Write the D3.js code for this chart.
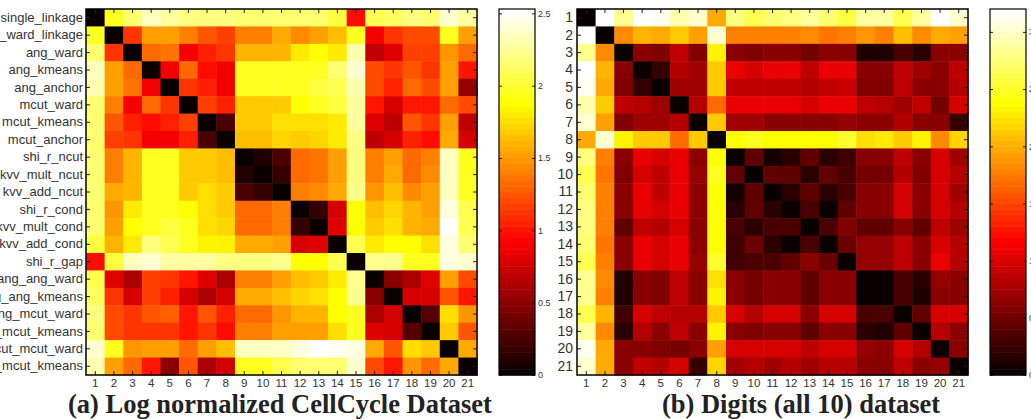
<!DOCTYPE html>
<html>
<head>
<meta charset="utf-8">
<script src="https://cdn.jsdelivr.net/npm/d3@7"></script>
<style>
  body { margin: 0; background: #fff; }
  svg { display: block; }
  .tick text { fill: #333; }
</style>
</head>
<body>
<div id="chart"></div>
<script>
// method names for panel (a)
const methodNames = ["single_linkage", "hc_ward_linkage", "ang_ward", "ang_kmeans", "ang_anchor",
  "mcut_ward", "mcut_kmeans", "mcut_anchor", "shi_r_ncut", "kvv_mult_ncut", "kvv_add_ncut",
  "shi_r_cond", "kvv_mult_cond", "kvv_add_cond", "shi_r_gap", "ang_ang_ward", "ang_ang_kmeans",
  "ang_mcut_ward", "ang_mcut_kmeans", "mcut_mcut_ward", "mcut_mcut_kmeans"];
const indexLabels = d3.range(1, 22).map(String);

const cellCycleTicks = [0, 0.5, 1, 1.5, 2, 2.5];
const cellCycleMax = 2.53;
const digitsTicks = [0, 0.5, 1, 1.5, 2, 2.5, 3];
const digitsMax = 3.2;

// (a) Log normalized CellCycle distances
const cellCycle = [
  [0,1.97,2.17,2.37,2.29,2.19,2.19,2.19,2.17,2.17,2.17,2.17,2.17,2.02,0.95,2.07,2.12,2.19,2.14,2.39,2.27],
  [1.97,0,1.13,1.51,1.54,1.39,1.26,1.16,1.41,1.39,1.56,1.46,1.51,1.64,1.97,0.88,1.13,1.21,1.21,1.97,1.54],
  [2.14,1.13,0,1.31,1.36,0.88,1.06,1.13,1.61,1.61,1.61,1.81,1.89,1.81,2.32,0.68,0.81,1.18,1.18,1.49,1.31],
  [2.37,1.51,1.31,0,0.88,1.31,0.95,0.88,1.94,1.94,1.97,1.94,1.97,2.14,2.39,1.21,1.13,1.26,1.13,1.51,1.01],
  [2.32,1.54,1.36,0.88,0,1.13,1.03,0.88,1.94,1.94,1.97,1.97,2.02,2.07,2.32,1.21,1.06,1.31,1.21,1.54,0.55],
  [2.17,1.39,0.88,1.31,1.13,0,1.18,1.06,1.69,1.69,1.69,1.89,1.97,2.02,2.27,1.01,0.76,1.01,1.01,1.31,1.21],
  [2.17,1.26,1.06,0.95,1.03,1.18,0,0.25,1.69,1.69,1.76,1.74,1.76,1.81,2.27,0.83,0.68,1.26,1.13,1.54,0.68],
  [2.17,1.16,1.13,0.88,0.88,1.06,0.25,0,1.64,1.64,1.71,1.69,1.71,1.81,2.19,0.68,0.76,1.06,0.95,1.56,0.76],
  [2.17,1.41,1.61,1.94,1.94,1.69,1.69,1.64,0,0.08,0.25,1.31,1.36,1.54,2.19,1.41,1.54,1.31,1.41,2.37,1.97],
  [2.17,1.39,1.61,1.94,1.94,1.69,1.69,1.64,0.08,0,0.18,1.31,1.36,1.54,2.19,1.41,1.56,1.31,1.44,2.37,1.97],
  [2.17,1.56,1.61,1.97,1.97,1.69,1.76,1.69,0.25,0.18,0,1.41,1.44,1.56,2.22,1.49,1.64,1.44,1.51,2.37,1.97],
  [2.17,1.49,1.81,1.94,1.94,1.89,1.74,1.69,1.31,1.31,1.41,0,0.18,0.76,1.89,1.66,1.71,1.59,1.54,2.44,2.09],
  [2.17,1.51,1.89,1.94,2.02,1.97,1.76,1.71,1.31,1.31,1.41,0.18,0,0.81,1.89,1.69,1.76,1.59,1.56,2.52,2.09],
  [2.02,1.59,1.81,2.19,2.07,1.97,1.84,1.84,1.56,1.56,1.54,0.76,0.81,0,2.07,1.81,1.89,1.89,1.76,2.44,2.14],
  [0.95,2.02,2.37,2.39,2.29,2.29,2.29,2.19,2.19,2.19,2.22,1.89,1.89,2.07,0,2.22,2.22,1.97,1.97,2.44,2.39],
  [2.07,0.83,0.63,1.18,1.13,1.01,0.83,0.63,1.41,1.41,1.51,1.66,1.69,1.81,2.22,0,0.5,0.63,0.83,1.54,1.21],
  [2.12,1.13,0.76,1.18,1.06,0.76,0.63,0.76,1.56,1.56,1.64,1.71,1.76,1.89,2.22,0.5,0,0.76,0.76,1.26,1.01],
  [2.19,1.21,1.13,1.26,1.29,1.01,1.26,1.06,1.31,1.31,1.49,1.59,1.59,1.89,1.97,0.63,0.76,0,0.3,1.76,1.49],
  [2.14,1.21,1.13,1.11,1.13,1.01,1.13,0.95,1.41,1.41,1.51,1.54,1.54,1.76,1.97,0.83,0.76,0.3,0,1.69,1.26],
  [2.39,1.97,1.49,1.51,1.54,1.31,1.54,1.64,2.37,2.37,2.37,2.44,2.52,2.47,2.44,1.56,1.26,1.76,1.69,0,1.56],
  [2.32,1.54,1.31,1.01,0.5,1.26,0.63,0.76,1.97,1.94,2.07,2.14,2.17,2.14,2.39,1.21,1.01,1.49,1.31,1.56,0]
];

// (b) Digits (all 10) distances
const digits = [
  [0,3.2,2.82,3.2,3.1,2.91,3.01,1.98,2.78,2.62,2.72,2.78,2.88,2.72,2.56,2.88,2.88,2.62,2.88,3.17,3.01],
  [3.2,0,1.82,2.02,1.98,2.14,1.92,3.01,1.79,1.76,1.79,1.76,1.82,1.73,1.79,1.89,1.79,2.08,1.82,1.98,1.95],
  [2.82,1.82,0,0.64,0.58,0.86,0.58,2.34,0.64,0.58,0.64,0.64,0.51,0.64,0.64,0.1,0.1,0.32,0.19,0.64,0.64],
  [3.2,2.02,0.64,0,0.22,0.8,0.74,2.14,1.06,0.96,1.06,1.06,0.86,1.06,1.09,0.64,0.64,0.86,0.74,0.64,0.86],
  [3.1,1.98,0.58,0.22,0,0.74,0.74,2.14,0.86,0.86,0.86,0.86,0.8,0.86,0.9,0.58,0.58,0.86,0.64,0.64,0.8],
  [2.91,2.14,0.86,0.8,0.74,0,0.8,1.66,1.06,1.09,1.06,1.06,0.96,1.06,1.09,0.86,0.8,0.74,0.86,0.51,0.96],
  [3.01,1.92,0.58,0.74,0.74,0.8,0,2.14,0.74,0.74,0.64,0.64,0.64,0.64,0.7,0.64,0.64,0.8,0.64,0.64,0.22],
  [1.98,3.01,2.34,2.14,2.14,1.66,2.14,0,2.4,2.46,2.4,2.4,2.4,2.4,2.5,2.24,2.3,2.11,2.34,1.82,2.18],
  [2.78,1.79,0.64,1.06,0.96,1.06,0.64,2.4,0,0.42,0.06,0.19,0.42,0.19,0.26,0.64,0.64,0.86,0.64,0.96,0.74],
  [2.62,1.73,0.58,0.96,0.86,1.09,0.7,2.46,0.42,0,0.42,0.42,0.19,0.42,0.32,0.51,0.51,0.8,0.58,0.96,0.8],
  [2.72,1.76,0.64,1.06,0.86,1.06,0.64,2.4,0.06,0.42,0,0.19,0.42,0.19,0.32,0.64,0.64,0.96,0.64,0.96,0.74],
  [2.75,1.76,0.64,1.06,0.96,1.06,0.64,2.4,0.19,0.42,0.19,0,0.32,0.03,0.42,0.64,0.64,0.96,0.64,0.96,0.8],
  [2.75,1.79,0.42,0.86,0.8,0.96,0.64,2.4,0.32,0.19,0.32,0.32,0,0.32,0.58,0.42,0.42,0.64,0.42,0.86,0.74],
  [2.72,1.73,0.64,1.06,0.96,1.06,0.64,2.4,0.26,0.48,0.19,0.03,0.32,0,0.48,0.7,0.7,0.86,0.64,0.96,0.8],
  [2.62,1.79,0.64,1.09,0.96,1.09,0.7,2.5,0.26,0.32,0.32,0.42,0.64,0.48,0,0.7,0.7,0.86,0.64,1.06,0.8],
  [2.82,1.82,0.1,0.64,0.58,0.86,0.64,2.24,0.64,0.51,0.64,0.64,0.42,0.64,0.64,0,0,0.32,0.16,0.7,0.64],
  [2.82,1.79,0.1,0.64,0.58,0.86,0.64,2.34,0.64,0.51,0.64,0.64,0.42,0.64,0.64,0,0,0.32,0.13,0.64,0.64],
  [2.62,2.02,0.26,0.96,0.86,0.8,0.8,2.14,0.96,0.8,0.96,0.96,0.64,0.96,0.96,0.32,0.32,0,0.42,0.96,0.96],
  [2.88,1.82,0.16,0.8,0.64,0.86,0.64,2.34,0.64,0.58,0.64,0.64,0.42,0.64,0.64,0.19,0.1,0.42,0,0.8,0.64],
  [3.1,1.98,0.64,0.64,0.58,0.51,0.64,1.92,0.96,0.96,0.96,0.96,0.86,0.96,0.99,0.7,0.64,0.96,0.8,0,0.64],
  [3.01,1.98,0.64,0.86,0.8,0.96,0.22,2.18,0.74,0.8,0.74,0.8,0.74,0.8,0.8,0.64,0.64,0.86,0.64,0.7,0]
];

const width = 1031, height = 419;

// matlab "hot" colormap, 64 levels
const hot = d3.range(64).map(i => {
  const r = Math.min(1, (i + 1) / 24);
  const g = Math.max(0, Math.min(1, (i + 1 - 24) / 24));
  const b = Math.max(0, Math.min(1, (i + 1 - 48) / 16));
  return d3.rgb(r * 255, g * 255, b * 255).formatHex();
});

const svg = d3.select("#chart")
  .append("svg")
  .attr("width", width)
  .attr("height", height)
  .attr("viewBox", [0, 0, width, height]);

function drawPanel(p) {
  const g = svg.append("g");
  const n = p.matrix.length;
  const idx = d3.range(n);

  let x = d3.scaleBand().domain(idx).range([p.left, p.left + 391]);
  let y = d3.scaleBand().domain(idx).range([p.top, p.top + 366]);
  let color = d3.scaleQuantize().domain([0, p.max]).range(hot);

  const cells = [];
  p.matrix.forEach((row, i) => row.forEach((v, j) => cells.push({ i, j, v })));

  g.selectAll("rect.cell")
    .data(cells)
    .join("rect")
    .attr("class", "cell")
    .attr("x", d => x(d.j))
    .attr("y", d => y(d.i))
    .attr("width", x.bandwidth() + 0.5)
    .attr("height", y.bandwidth() + 0.5)
    .attr("fill", d => color(d.v));

  const tk = 4;
  // bottom axis with labels
  g.append("g")
    .attr("transform", `translate(0,${p.top + 366})`)
    .call(d3.axisBottom(x).tickSize(-tk).tickSizeOuter(0).tickPadding(4).tickFormat(i => indexLabels[i]))
    .call(a => a.select(".domain").remove())
    .selectAll("text")
      .attr("font-family", "Liberation Sans, Arial, sans-serif")
      .attr("font-size", 11.5);

  g.append("g")
    .attr("transform", `translate(0,${p.top})`)
    .call(d3.axisTop(x).tickSize(-tk).tickSizeOuter(0).tickFormat(""))
    .call(a => a.select(".domain").remove());

  g.append("g")
    .attr("transform", `translate(${p.left},0)`)
    .call(d3.axisLeft(y).tickSize(-tk).tickSizeOuter(0).tickPadding(p.yPad).tickFormat(i => p.rowLabels[i]))
    .call(a => a.select(".domain").remove())
    .selectAll("text")
      .attr("font-family", "Liberation Sans, Arial, sans-serif")
      .attr("font-size", p.yFont);

  g.append("g")
    .attr("transform", `translate(${p.left + 391},0)`)
    .call(d3.axisRight(y).tickSize(-tk).tickSizeOuter(0).tickFormat(""))
    .call(a => a.select(".domain").remove());

  g.selectAll(".tick line").attr("stroke", "#222");

  g.append("rect")
    .attr("x", p.left).attr("y", p.top)
    .attr("width", 391).attr("height", 366)
    .attr("fill", "none").attr("stroke", "#000").attr("stroke-width", 1.5);

  // colour bar
  const cbW = 36;
  let cy = d3.scaleLinear().domain([0, p.max]).range([p.top + 366, p.top]);
  const bands = color.range().map(c => color.invertExtent(c));
  g.selectAll("rect.band")
    .data(bands)
    .join("rect")
    .attr("class", "band")
    .attr("x", p.cbLeft)
    .attr("y", d => cy(d[1]))
    .attr("width", cbW)
    .attr("height", d => cy(d[0]) - cy(d[1]) + 0.5)
    .attr("fill", d => color((d[0] + d[1]) / 2));

  g.append("g")
    .attr("transform", `translate(${p.cbLeft + cbW},0)`)
    .call(d3.axisRight(cy).tickValues(p.ticks).tickSize(-3).tickPadding(3).tickFormat(d3.format("")))
    .call(a => a.select(".domain").remove())
    .selectAll("text")
      .attr("font-family", "Liberation Sans, Arial, sans-serif")
      .attr("font-size", 9);

  g.append("g")
    .attr("transform", `translate(${p.cbLeft},0)`)
    .call(d3.axisLeft(cy).tickValues(p.ticks).tickSize(-3).tickFormat(""))
    .call(a => a.select(".domain").remove());

  g.selectAll(".tick line").attr("stroke", "#222");

  g.append("rect")
    .attr("x", p.cbLeft).attr("y", p.top)
    .attr("width", cbW).attr("height", 366)
    .attr("fill", "none").attr("stroke", "#000").attr("stroke-width", 1.2);

  svg.append("text")
    .attr("x", p.titleX)
    .attr("y", 412.5)
    .attr("text-anchor", "middle")
    .attr("font-family", "Liberation Serif, Times New Roman, serif")
    .attr("font-weight", "bold")
    .attr("font-size", 26.5)
    .attr("fill", "#222")
    .text(p.title);
}

drawPanel({
  matrix: cellCycle, max: cellCycleMax, ticks: cellCycleTicks,
  left: 86, top: 9, cbLeft: 499,
  rowLabels: methodNames, yFont: 13, yPad: 3,
  titleX: 280, title: "(a) Log normalized CellCycle Dataset"
});

drawPanel({
  matrix: digits, max: digitsMax, ticks: digitsTicks,
  left: 577, top: 9, cbLeft: 990,
  rowLabels: indexLabels, yFont: 14, yPad: 4,
  titleX: 801, title: "(b) Digits (all 10) dataset"
});
</script>
</body>
</html>
